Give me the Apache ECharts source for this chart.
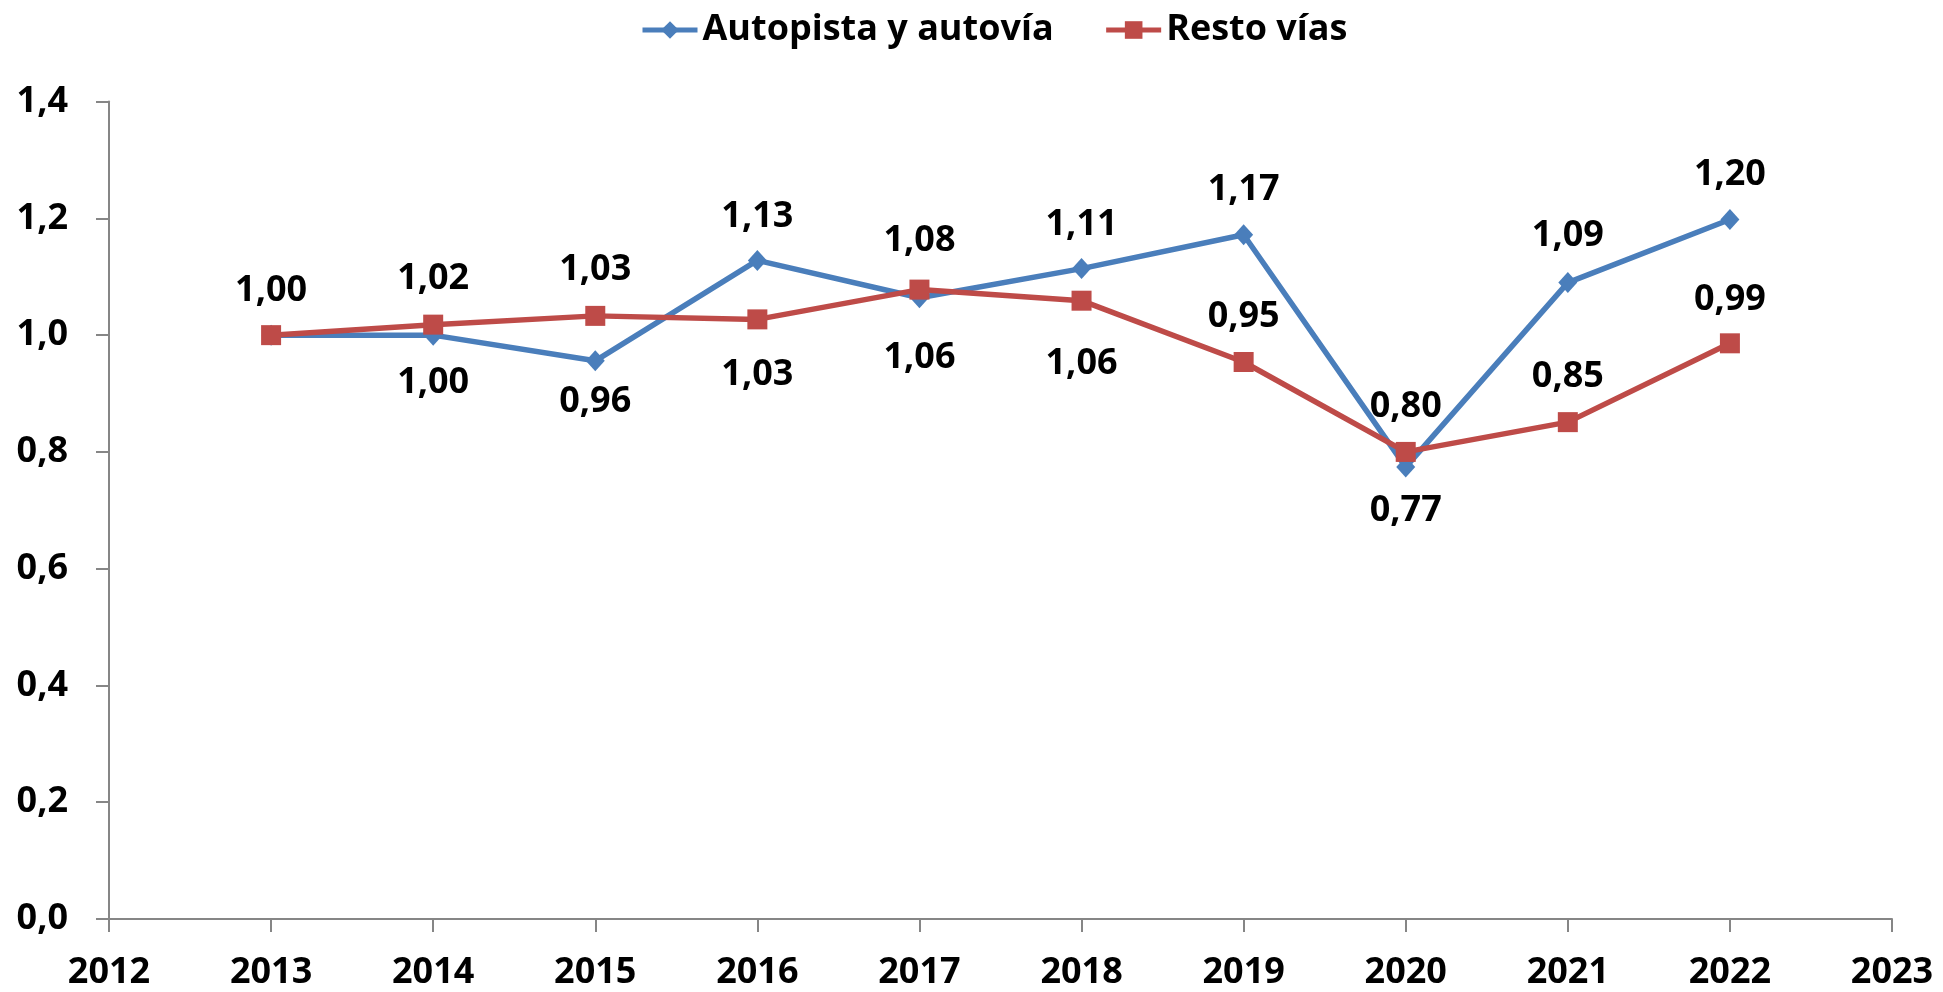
<!DOCTYPE html>
<html>
<head>
<meta charset="utf-8">
<script src="https://cdn.jsdelivr.net/npm/echarts@6/dist/echarts.min.js"></script>
<style>
  html, body { margin: 0; padding: 0; background: #fff; }
  #e_chart_1 { width: 1943px; height: 992px; }
</style>
</head>
<body>
<div id="e_chart_1"></div>
<script>
var years = [2013, 2014, 2015, 2016, 2017, 2018, 2019, 2020, 2021, 2022];
var autopista = [1.000, 1.000, 0.956, 1.128, 1.064, 1.114, 1.172, 0.774, 1.090, 1.198];
var restoVias = [1.000, 1.018, 1.033, 1.027, 1.078, 1.059, 0.954, 0.800, 0.851, 0.986];
var yTicks = [0, 0.2, 0.4, 0.6, 0.8, 1.0, 1.2, 1.4];

// vertical shift of each data label from its marker (null = no label)
var autopistaLabelDy = [null, 48, 41, -44, 60, -44, -45, 44, -47, -45];
var restoLabelDy = [-44, -46, -46, 55, -49, 63, -45, -45, -45, -44];

var dom = document.getElementById("e_chart_1");
var myChart = echarts.init(dom);
var option = null;

var fontFamily = '"Open Sans", "Noto Sans", sans-serif';
var axisColor = '#868686';

function comma(v, d) {
    return v.toFixed(d).replace('.', ',');
}

function buildData(values, dys) {
    return values.map(function (v, i) {
        var dy = dys[i];
        return {
            value: [years[i], v],
            label: dy === null ? { show: false } : { offset: [0, dy] }
        };
    });
}

var labelOption = {
    show: true,
    position: 'inside',
    color: '#000',
    fontFamily: fontFamily,
    fontWeight: 'bold',
    fontSize: 36,
    formatter: function (p) {
        return comma(p.value[1], 2);
    }
};

option = {
    animation: false,
    color: ['#4A7EBB', '#BE4B48'],
    legend: {
        left: 640,
        top: 12,
        padding: 0,
        itemWidth: 55,
        itemHeight: 22,
        itemGap: 50,
        lineStyle: { width: 5 },
        textStyle: {
            color: '#000',
            fontFamily: fontFamily,
            fontWeight: 'bold',
            fontSize: 36
        },
        data: ['Autopista y autovía', 'Resto vías']
    },
    grid: {
        left: 109,
        right: 51,
        top: 101.6,
        bottom: 73,
        containLabel: false
    },
    xAxis: {
        type: 'value',
        min: 2012,
        max: 2023,
        interval: 1,
        axisLine: { show: true, lineStyle: { color: axisColor, width: 2 } },
        axisTick: { show: true, length: 13, lineStyle: { color: axisColor, width: 2 } },
        splitLine: { show: false },
        axisLabel: {
            margin: 36,
            color: '#000',
            fontFamily: fontFamily,
            fontWeight: 'bold',
            fontSize: 36,
            formatter: function (v) { return String(v); }
        }
    },
    yAxis: {
        type: 'value',
        min: yTicks[0],
        max: yTicks[yTicks.length - 1],
        interval: 0.2,
        axisLine: { show: true, lineStyle: { color: axisColor, width: 2 } },
        axisTick: { show: true, length: 13, lineStyle: { color: axisColor, width: 2 } },
        splitLine: { show: false },
        axisLabel: {
            margin: 41,
            color: '#000',
            fontFamily: fontFamily,
            fontWeight: 'bold',
            fontSize: 36,
            formatter: function (v) { return comma(v, 1); }
        }
    },
    series: [{
        name: 'Autopista y autovía',
        type: 'line',
        symbol: 'diamond',
        symbolSize: [19, 21],
        lineStyle: { width: 5.5 },
        label: labelOption,
        data: buildData(autopista, autopistaLabelDy)
    }, {
        name: 'Resto vías',
        type: 'line',
        symbol: 'rect',
        symbolSize: 20,
        lineStyle: { width: 5.5 },
        label: labelOption,
        data: buildData(restoVias, restoLabelDy)
    }]
};

if (option && typeof option === "object") {
    myChart.setOption(option, true);
}
</script>
</body>
</html>
